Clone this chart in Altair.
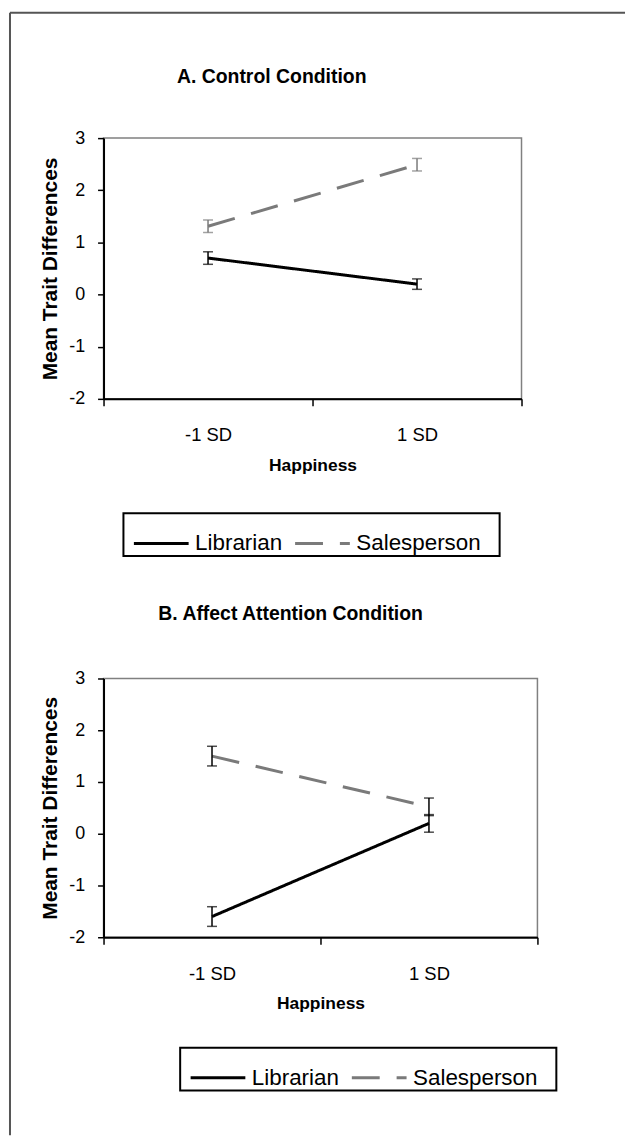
import altair as alt
import pandas as pd

# ---- data ----
levels = ["-1 SD", "1 SD"]
series = ["Librarian", "Salesperson"]

a_librarian = [0.70, 0.20]
a_librarian_err = [0.12, 0.10]
a_salesperson = [1.31, 2.49]
a_salesperson_err = [0.12, 0.12]

b_librarian = [-1.60, 0.20]
b_librarian_err = [0.19, 0.17]
b_salesperson = [1.50, 0.52]
b_salesperson_err = [0.19, 0.17]

y_ticks = [-2, -1, 0, 1, 2, 3]

FONT = "Liberation Sans, Arial, sans-serif"


def make_df(lib, lib_err, sal, sal_err):
    rows = []
    for s, vals, errs in [(series[0], lib, lib_err), (series[1], sal, sal_err)]:
        for lv, v, e in zip(levels, vals, errs):
            rows.append({"level": lv, "series": s, "mean": v,
                         "lo": v - e, "hi": v + e})
    return pd.DataFrame(rows)


def panel(df, title, title_dx, title_offset, width, height, legend_x, legend_y,
          sal_err_gray, frame=False):
    base = alt.Chart(df)
    x = alt.X("level:N", sort=levels,
              scale=alt.Scale(domain=levels, paddingInner=0, paddingOuter=0),
              axis=alt.Axis(title="Happiness", labelAngle=0, tickBand="extent",
                            labelFontSize=18.5, labelPadding=20,
                            tickSize=7, titleFontSize=17.5, titlePadding=12))
    y_scale = alt.Scale(domain=[-2, 3], nice=False, zero=False)
    y_axis = alt.Axis(title="Mean Trait Differences", values=y_ticks,
                      labelExpr="'' + datum.value",
                      labelFontSize=18, labelPadding=13,
                      tickSize=6, titleFontSize=21,
                      titlePadding=8, grid=False)

    legend = alt.Legend(title=None, orient="none", legendX=legend_x,
                        legendY=legend_y, direction="horizontal", columns=2,
                        symbolType="stroke", symbolSize=3025,
                        symbolStrokeWidth=3, symbolOffset=8,
                        labelFontSize=22.5, labelFont=FONT, labelLimit=400,
                        labelExpr="datum.label == 'Salesperson' ? datum.label + '\u2800' : datum.label",
                        labelColor="black", columnPadding=3, labelOffset=5,
                        padding=1, strokeColor="black")

    color = alt.Color("series:N",
                      scale=alt.Scale(domain=series, range=["#000000", "#7a7a7a"]),
                      legend=legend)
    dash = alt.StrokeDash("series:N",
                          scale=alt.Scale(domain=series, range=[[1, 0], [28, 17]]),
                          legend=legend)

    lines = base.mark_line(strokeWidth=3).encode(
        x=x, y=alt.Y("mean:Q", scale=y_scale, axis=y_axis),
        color=color, strokeDash=dash)

    if sal_err_gray:
        err_color = alt.Color("series:N",
                              scale=alt.Scale(domain=series,
                                              range=["#000000", "#7a7a7a"]),
                              legend=None)
    else:
        err_color = alt.value("#000000")

    rules = base.mark_rule(strokeWidth=1.5).encode(
        x=x, y=alt.Y("lo:Q", scale=y_scale, axis=y_axis), y2="hi:Q",
        color=err_color)
    caps_lo = base.mark_tick(size=10, thickness=1.5).encode(
        x=x, y=alt.Y("lo:Q", scale=y_scale, axis=y_axis), color=err_color)
    caps_hi = base.mark_tick(size=10, thickness=1.5).encode(
        x=x, y=alt.Y("hi:Q", scale=y_scale, axis=y_axis), color=err_color)

    layers = [lines, rules, caps_lo, caps_hi]

    if frame:
        one = alt.Chart(alt.Data(values=[{"k": 0}]))
        top = one.mark_rule(color="#555555", strokeWidth=2).encode(
            x=alt.value(-94), x2=alt.value(524), y=alt.value(-126))
        left = one.mark_rule(color="#555555", strokeWidth=2).encode(
            x=alt.value(-94), y=alt.value(-126), y2=alt.value(1002))
        layers = [top, left] + layers

    return alt.layer(*layers).properties(
        width=width, height=height,
        title=alt.TitleParams(text=title, fontSize=19.5, font=FONT,
                              fontWeight="bold", anchor="middle",
                              frame="group", dx=title_dx, offset=title_offset,
                              color="black"),
    ).resolve_scale(color="shared", strokeDash="shared")


df_a = make_df(a_librarian, a_librarian_err, a_salesperson, a_salesperson_err)
df_b = make_df(b_librarian, b_librarian_err, b_salesperson, b_salesperson_err)

chart_a = panel(df_a, "A. Control Condition", -41, -76, 420, 262, 20, 377,
                True, frame=True)
chart_b = panel(df_b, "B. Affect Attention Condition", -30, 45, 436, 260, 77,
                371, False)

chart = alt.vconcat(chart_a, chart_b, spacing=281, bounds="flush").resolve_scale(
    x="independent", y="independent", color="independent",
    strokeDash="independent").resolve_legend(
    color="independent", strokeDash="independent").properties(
    padding={"left": 0, "top": 0, "right": 0, "bottom": 0}
).configure(font=FONT, background="white").configure_view(
    stroke="#808080", strokeWidth=1.5
).configure_axis(
    labelFont=FONT, titleFont=FONT,
    labelColor="black", titleColor="black",
    domainColor="black", domainWidth=2, tickColor="black", tickWidth=1.5,
    titleFontWeight="bold"
).configure_legend(strokeWidth=2)

chart.save("out.html", embed_options={"renderer": "svg", "actions": False})
